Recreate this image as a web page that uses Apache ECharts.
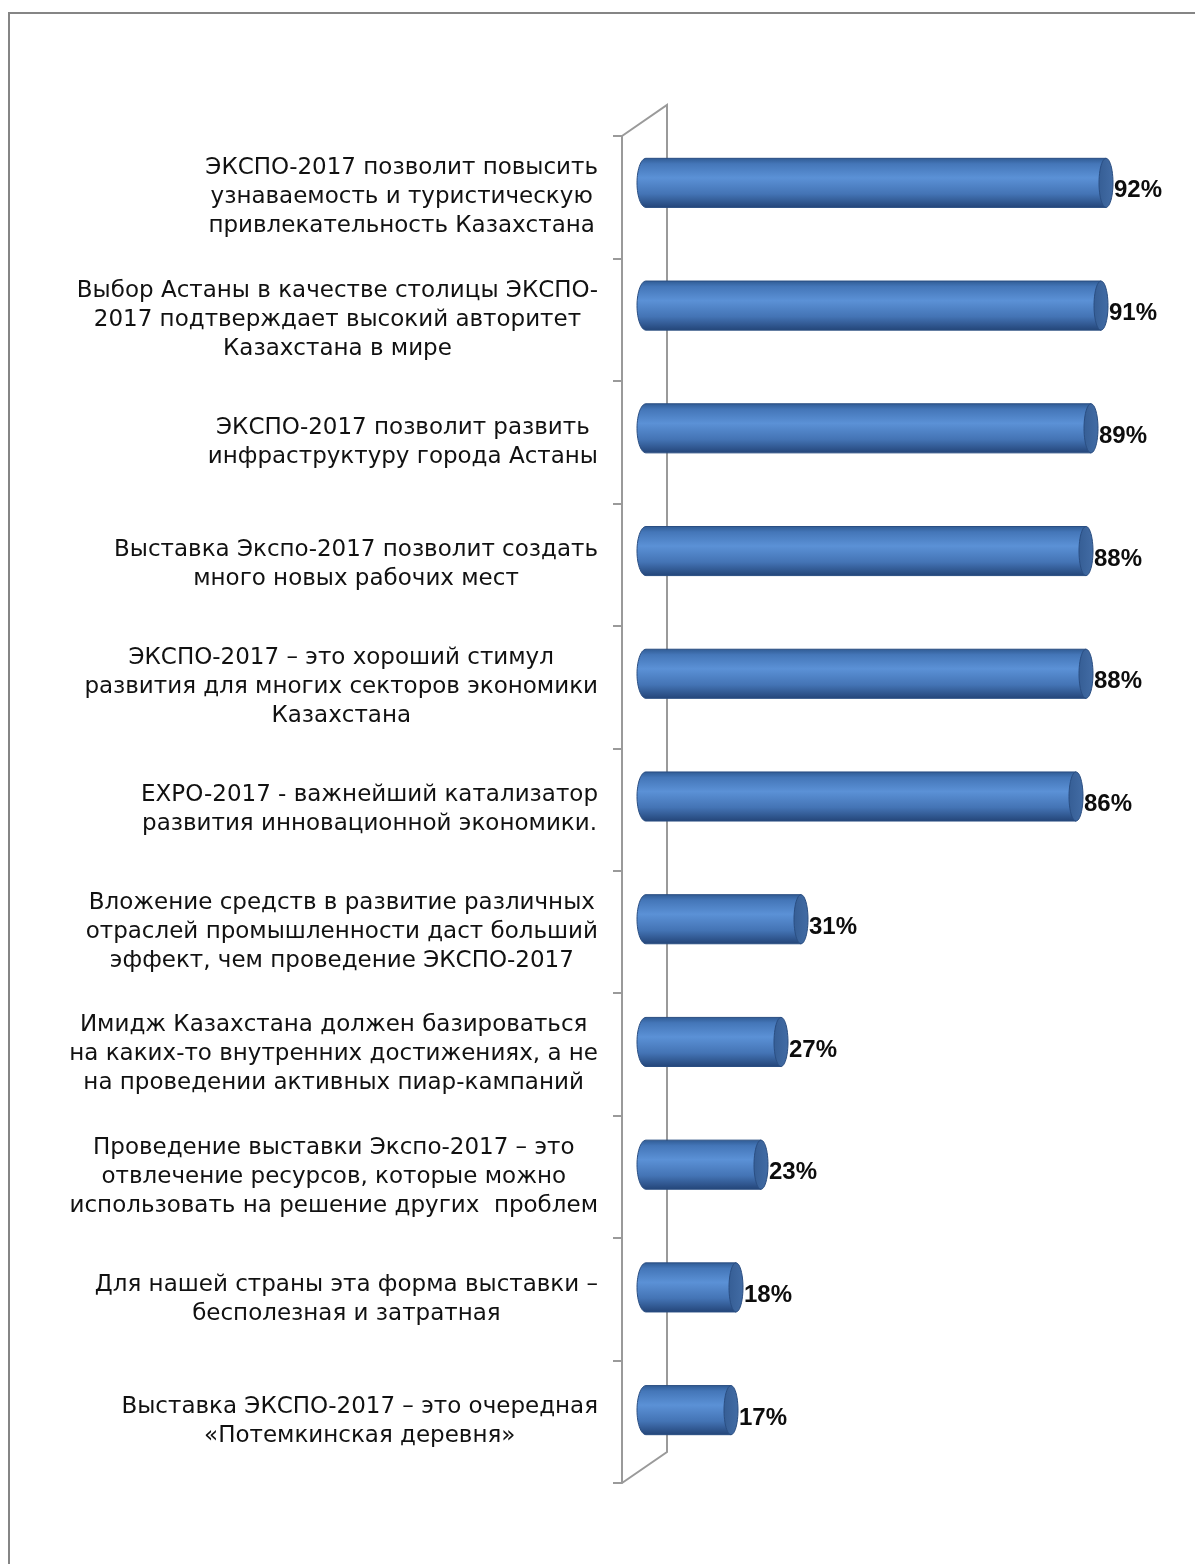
<!DOCTYPE html>
<html><head><meta charset="utf-8">
<script src="https://cdn.jsdelivr.net/npm/echarts@6/dist/echarts.min.js"></script>
<style>html,body{margin:0;padding:0;background:#fff}#c{width:1195px;height:1564px}</style>
</head><body><div id="c"></div>
<script>
const categories = [
  "ЭКСПО-2017 позволит повысить\nузнаваемость и туристическую\nпривлекательность Казахстана",
  "Выбор Астаны в качестве столицы ЭКСПО-\n2017 подтверждает высокий авторитет\nКазахстана в мире",
  "ЭКСПО-2017 позволит развить\nинфраструктуру города Астаны",
  "Выставка Экспо-2017 позволит создать\nмного новых рабочих мест",
  "ЭКСПО-2017 – это хороший стимул\nразвития для многих секторов экономики\nКазахстана",
  "EXPO-2017 - важнейший катализатор\nразвития инновационной экономики.",
  "Вложение средств в развитие различных\nотраслей промышленности даст больший\nэффект, чем проведение ЭКСПО-2017",
  "Имидж Казахстана должен базироваться\nна каких-то внутренних достижениях, а не\nна проведении активных пиар-кампаний",
  "Проведение выставки Экспо-2017 – это\nотвлечение ресурсов, которые можно\nиспользовать на решение других  проблем",
  "Для нашей страны эта форма выставки –\nбесполезная и затратная",
  "Выставка ЭКСПО-2017 – это очередная\n«Потемкинская деревня»"
];
const values = [92, 91, 89, 88, 88, 86, 31, 27, 23, 18, 17];
const valueMin = 0;
const valueMax = 100;

const chart = echarts.init(document.getElementById('c'), null, {renderer: 'canvas'});

const bodyGradient = () => new echarts.graphic.LinearGradient(0, 0, 0, 1, [
  {offset: 0, color: '#2f5a92'},
  {offset: 0.12, color: '#4476b8'},
  {offset: 0.40, color: '#5b91d6'},
  {offset: 0.72, color: '#4474b5'},
  {offset: 1, color: '#234477'}
]);

function renderItem(params, api) {
  const v = api.value(0), i = api.value(1);
  const p0 = api.coord([0, i]);
  const p1 = api.coord([v, i]);
  const h = api.size([0, 1])[1] * 0.40;
  const cy = p0[1], ry = h / 2;
  const yT = cy - ry, yB = cy + ry;
  const rxL = 9, rxR = 7;
  const body = [[p1[0], yT]];
  for (let k = 0; k <= 30; k++) {
    const a = -Math.PI / 2 - Math.PI * k / 30;
    body.push([p0[0] + rxL * Math.cos(a), cy + ry * Math.sin(a)]);
  }
  body.push([p1[0], yB]);
  const cap = [];
  for (let k = 0; k < 48; k++) {
    const a = 2 * Math.PI * k / 48;
    cap.push([p1[0] + rxR * Math.cos(a), cy + ry * Math.sin(a)]);
  }
  return {
    type: 'group',
    children: [
      {type: 'polygon', shape: {points: body}, style: {fill: bodyGradient(), stroke: '#2a4e82', lineWidth: 1}},
      {type: 'polygon', shape: {points: cap}, style: {
        fill: new echarts.graphic.LinearGradient(0, 0, 1, 0, [
          {offset: 0, color: '#365e95'}, {offset: 1, color: '#426ca5'}]),
        stroke: '#2a4e82', lineWidth: 1}},
      {type: 'text', x: p1[0] + rxR + 1, y: cy + 8, style: {
        text: v + '%', fontFamily: 'Liberation Sans, Arial, sans-serif', fontWeight: 'bold',
        fontSize: 24, fill: '#0d0d0d', verticalAlign: 'middle', align: 'left'}}
    ]
  };
}

const labelFont = 'DejaVu Sans';
const labelSize = 23;
const option = {
  animation: false,
  backgroundColor: '#ffffff',
  grid: [
    {left: 646, right: 49, top: 121.5, bottom: 92.5},
    {left: 622, right: 0, top: 136, bottom: 81}
  ],
  xAxis: [
    {gridIndex: 0, type: 'value', min: valueMin, max: valueMax, show: false},
    {gridIndex: 1, type: 'value', min: 0, max: 1, show: false}
  ],
  yAxis: [
    {gridIndex: 0, type: 'category', data: categories, inverse: true, show: false},
    {gridIndex: 1, type: 'category', data: categories, inverse: true,
      axisLine: {show: true, lineStyle: {color: '#9a9a9a', width: 2}},
      axisTick: {show: true, length: 9, lineStyle: {color: '#9a9a9a', width: 2}},
      splitLine: {show: false},
      axisLabel: {
        interval: 0, margin: 24, align: 'right',
        fontFamily: labelFont, fontSize: labelSize, lineHeight: 29, color: '#111',
        formatter: v => '{c|' + v.split('\n').join('}\n{c|') + '}',
        rich: {c: {align: 'center', fontFamily: labelFont, fontSize: labelSize, lineHeight: 29, color: '#111'}}
      }
    }
  ],
  graphic: [
    {type: 'polyline', z: 0, shape: {points: [[622, 136], [667, 105], [667, 1452], [622, 1483]]},
      style: {stroke: '#9a9a9a', lineWidth: 2, fill: null}},
    {type: 'polyline', z: 0, shape: {points: [[9, 1564], [9, 13], [1195, 13]]},
      style: {stroke: '#858585', lineWidth: 2, fill: null}}
  ],
  series: [{
    type: 'custom', xAxisIndex: 0, yAxisIndex: 0,
    data: values.map((v, i) => [v, i]),
    encode: {x: 0, y: 1},
    renderItem: renderItem,
    z: 5
  }]
};
chart.setOption(option);
</script></body></html>
